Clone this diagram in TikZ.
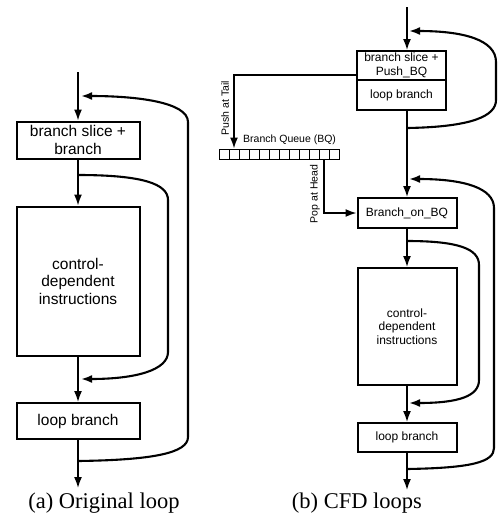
\documentclass[tikz,border=0pt]{standalone}
\usepackage{fontspec}
\setmainfont{Liberation Serif}
\newfontfamily\arial{Liberation Sans}
\usetikzlibrary{arrows.meta}

\tikzset{
  tip/.style={-{Latex[length=11pt,width=8pt]}},
  bigbox/.style={draw, line width=2pt, inner sep=0pt, align=center,
    font=\arial\fontsize{15.5}{17.5}\selectfont, minimum width=123},
  smallbox/.style={draw, line width=2pt, inner sep=0pt, align=center,
    font=\arial\fontsize{12}{13.5}\selectfont, minimum width=99},
  conn/.style={line width=1.6pt, tip},
  loopline/.style={line width=2.1pt, tip},
  cell/.style={draw, line width=1pt, minimum width=10, minimum height=10, inner sep=0pt},
  lbl/.style={font=\arial\fontsize{10.5}{12}\selectfont, inner sep=0pt},
  caption/.style={font=\fontsize{22.5}{26}\selectfont, inner sep=0pt}
}

\begin{document}
\begin{tikzpicture}[x=1pt, y=-1pt]
\useasboundingbox (0,0) rectangle (498,520);

% ---------- (a) original loop ----------
\coordinate (a-in)  at (78,72);
\coordinate (a-out) at (78,488);
\coordinate (a-oL)  at (78,461);
\coordinate (a-oR)  at (81,96);
\coordinate (a-iL)  at (78,175);
\coordinate (a-iR)  at (81,379);

\node[bigbox, minimum height=37]  (a-slice) at (78,140) {branch slice +\\branch};
\node[bigbox, minimum height=149] (a-cd)    at (78,281) {control-\\dependent\\instructions};
\node[bigbox, minimum height=36]  (a-lb)    at (78,421) {loop branch};

\draw[conn] (a-in) -- (a-slice.north);
\draw[conn] (a-slice.south) -- (a-cd.north);
\draw[conn] (a-cd.south) -- (a-lb.north);
\draw[conn] (a-lb.south) -- (a-out);

\draw[loopline] (a-oL) .. controls +(75,-1) and +(0,16) .. (188,437)
  -- (188,122) .. controls +(0,-20) and +(55,0) .. (a-oR);
\draw[loopline] (a-iL) .. controls +(65,0) and +(0,-16) .. (168,200)
  -- (168,352) .. controls +(0,18) and +(55,0) .. (a-iR);

\node[caption] (a-cap) at (104,503) {(a) Original loop};

% ---------- (b) CFD loops ----------
\coordinate (b-in)  at (407,7);
\coordinate (b-out) at (407,490);
\coordinate (b-tL)  at (407,128);
\coordinate (b-tR)  at (409,31);
\coordinate (b-oL)  at (407,469);
\coordinate (b-oR)  at (409,179);
\coordinate (b-iL)  at (407,241);
\coordinate (b-iR)  at (409,403);

\node[smallbox, minimum width=89, minimum height=29] (b-push) at (401.5,65.5) {branch slice +\\Push\_BQ};
\node[smallbox, minimum width=89, minimum height=30] (b-lbt)  at (401.5,95) {loop branch};
\node[smallbox, minimum height=30]  (b-bq) at (407,213) {Branch\_on\_BQ};
\node[smallbox, minimum height=117] (b-cd) at (407,326.5) {control-\\dependent\\instructions};
\node[smallbox, minimum height=29]  (b-lb) at (407,437.5) {loop branch};

\draw[conn] (b-in) -- (b-in |- b-push.north);
\draw[conn] (b-bq.north |- b-lbt.south) -- (b-bq.north);
\draw[conn] (b-bq.south) -- (b-cd.north);
\draw[conn] (b-cd.south) -- (b-lb.north);
\draw[conn] (b-lb.south) -- (b-out);

\draw[loopline] (b-tL) .. controls +(65,-1) and +(0,16) .. (496,100)
  -- (496,62) .. controls +(0,-22) and +(55,0) .. (b-tR);
\draw[loopline] (b-oL) .. controls +(65,-1) and +(0,14) .. (494,448)
  -- (494,208) .. controls +(0,-20) and +(55,0) .. (b-oR);
\draw[loopline] (b-iL) .. controls +(52,0) and +(0,-16) .. (479,265)
  -- (479,380) .. controls +(0,16) and +(50,0) .. (b-iR);

% branch queue
\foreach \i in {1,...,12}
  \node[cell] (q\i) at ({214+10*\i},154) {};
\node[lbl, anchor=south west] (bq-name) at (243,145) {Branch Queue (BQ)};

\coordinate (b-pushout) at (b-push.west |- 0,75);
\draw[conn] (b-pushout) -| (q2.north);
\node[lbl, rotate=90] (push-lbl) at (225,108) {Push at Tail};

\draw[conn] (q11.south) |- (b-bq.west);
\node[lbl, rotate=90] (pop-lbl) at (315,194) {Pop at Head};

\node[caption] (b-cap) at (357,503) {(b) CFD loops};
\end{tikzpicture}
\end{document}
